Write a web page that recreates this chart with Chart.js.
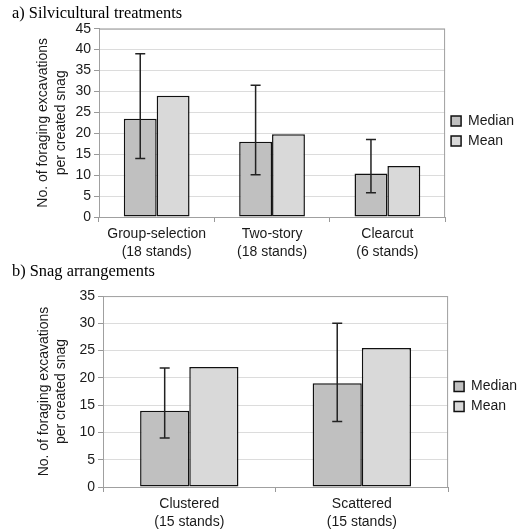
<!DOCTYPE html>
<html>
<head>
<meta charset="utf-8">
<script src="https://cdn.jsdelivr.net/npm/chart.js@4.4.1/dist/chart.umd.min.js"></script>
<style>
  html, body { margin: 0; padding: 0; background: #fff; }
  #wrap { position: relative; width: 527px; height: 531px; overflow: hidden; }
  canvas { position: absolute; left: 0; }
</style>
</head>
<body>
<div id="wrap">
  <canvas id="chartA" width="527" height="262" style="top:0"></canvas>
  <canvas id="chartB" width="527" height="269" style="top:262px"></canvas>
</div>
<script>
// a) Silvicultural treatments
const treatLabels = [['Group-selection', '(18 stands)'], ['Two-story', '(18 stands)'], ['Clearcut', '(6 stands)']];
const treatMedian = [23.5, 18, 10.4];
const treatMean = [29, 19.8, 12.2];
const treatLow = [14, 10.1, 5.8];   // error bar ends on the median bar
const treatHigh = [39, 31.5, 18.5];

// b) Snag arrangements
const arrLabels = [['Clustered', '(15 stands)'], ['Scattered', '(15 stands)']];
const arrMedian = [14, 19];
const arrMean = [22, 25.5];
const arrLow = [9, 12];
const arrHigh = [21.8, 30];

const axisTitle = ['No. of foraging excavations', 'per created snag'];
const textColor = '#1a1a1a';

Chart.defaults.font.family = 'Arial, "Liberation Sans", sans-serif';
Chart.defaults.font.size = 14;
Chart.defaults.color = textColor;

// grey box round the plot area
const framePlugin = {
    id: 'frame',
    beforeDatasetsDraw(chart) {
        const a = chart.chartArea;
        const ctx = chart.ctx;
        ctx.save();
        ctx.strokeStyle = '#a0a0a0';
        ctx.lineWidth = 1;
        ctx.strokeRect(a.left + 0.5, a.top + 0.5, a.right - a.left - 1, a.bottom - a.top);
        ctx.restore();
    }
};

// error bars drawn on the median bars
const errorBarPlugin = {
    id: 'errorBars',
    afterDatasetsDraw(chart, args, opts) {
        const meta = chart.getDatasetMeta(0);
        const y = chart.scales.y;
        const ctx = chart.ctx;
        ctx.save();
        ctx.strokeStyle = '#222';
        ctx.lineWidth = 1.5;
        meta.data.forEach((bar, i) => {
            const yLow = y.getPixelForValue(opts.low[i]);
            const yHigh = y.getPixelForValue(opts.high[i]);
            ctx.beginPath();
            ctx.moveTo(bar.x, yLow);
            ctx.lineTo(bar.x, yHigh);
            ctx.moveTo(bar.x - 5, yLow);
            ctx.lineTo(bar.x + 5, yLow);
            ctx.moveTo(bar.x - 5, yHigh);
            ctx.lineTo(bar.x + 5, yHigh);
            ctx.stroke();
        });
        ctx.restore();
    }
};

function makeChart(id, p) {
    return new Chart(document.getElementById(id).getContext('2d'), {
        type: 'bar',
        data: {
            labels: p.labels,
            datasets: [
                {
                    label: 'Median',
                    data: p.median,
                    backgroundColor: '#c0c0c0',
                    borderColor: '#111',
                    borderWidth: 1.5,
                    borderSkipped: false
                },
                {
                    label: 'Mean',
                    data: p.mean,
                    backgroundColor: '#d9d9d9',
                    borderColor: '#111',
                    borderWidth: 1.5,
                    borderSkipped: false
                }
            ]
        },
        options: {
            responsive: false,
            animation: false,
            devicePixelRatio: 1,
            categoryPercentage: 0.57,
            barPercentage: 1.0,
            layout: { padding: { left: 12, right: p.padRight, top: 0, bottom: 0 } },
            plugins: {
                title: {
                    display: true,
                    text: p.title,
                    align: 'start',
                    color: '#000',
                    font: { family: '"Liberation Serif", "Times New Roman", serif', size: 16.4, weight: 'normal' },
                    padding: p.titlePad
                },
                legend: {
                    position: 'right',
                    align: 'center',
                    labels: {
                        boxWidth: 10,
                        boxHeight: 10,
                        padding: 6,
                        color: textColor,
                        font: { size: 14, lineHeight: 1.07 }
                    }
                },
                tooltip: { enabled: false },
                errorBars: { low: p.low, high: p.high }
            },
            scales: {
                x: {
                    grid: {
                        drawOnChartArea: false,
                        color: '#999',
                        tickLength: 5
                    },
                    border: { color: '#999' },
                    ticks: { padding: 3, maxRotation: 0, color: textColor, font: { size: 14, lineHeight: 1.3 } },
                    afterFit(scale) { scale.height = p.xHeight; }
                },
                y: {
                    min: 0,
                    max: p.max,
                    ticks: { stepSize: 5, padding: 3, color: textColor, font: { size: 14 } },
                    grid: { color: '#dcdcdc', tickColor: '#999', tickLength: 5 },
                    border: { color: '#999' },
                    title: {
                        display: true,
                        text: axisTitle,
                        color: textColor,
                        font: { size: 14, lineHeight: 1.25 },
                        padding: { top: p.titleOffset, bottom: 0 }
                    },
                    afterFit(scale) { scale.width = p.yWidth; }
                }
            }
        },
        plugins: [framePlugin, errorBarPlugin]
    });
}

makeChart('chartA', {
    title: 'a) Silvicultural treatments',
    labels: treatLabels, median: treatMedian, mean: treatMean,
    low: treatLow, high: treatHigh,
    max: 45, yWidth: 87, xHeight: 45, padRight: 3,
    titlePad: { top: 4, bottom: 5 }, titleOffset: 22.5
});

makeChart('chartB', {
    title: 'b) Snag arrangements',
    labels: arrLabels, median: arrMedian, mean: arrMean,
    low: arrLow, high: arrHigh,
    max: 35, yWidth: 91, xHeight: 44, padRight: 0,
    titlePad: { top: 0, bottom: 14.4 }, titleOffset: 23
});
</script>
</body>
</html>
